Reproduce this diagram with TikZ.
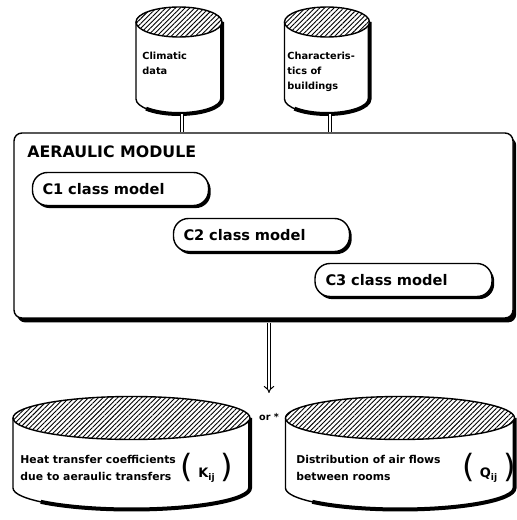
\documentclass[tikz,border=0pt]{standalone}
\usepackage{fontspec}
\setmainfont{DejaVu Sans}
\usetikzlibrary{patterns.meta}
\usetikzlibrary{shadows}
\usetikzlibrary{arrows.meta}

% drum: name, cx, y of top, y of bottom, x radius, y radius
\newcommand{\drum}[6]{%
\fill[white] (#2-#5,#3) -- (#2-#5,#4) arc[start angle=180, end angle=360, x radius=#5, y radius=#6] -- (#2+#5,#3) -- cycle;
\draw[line width=0.7pt] (#2-#5,#3) -- (#2-#5,#4) arc[start angle=180, end angle=360, x radius=#5, y radius=#6] -- (#2+#5,#3);
\draw[line width=2pt] (#2+#5,#3) -- (#2+#5,#4) arc[start angle=0, end angle=-140, x radius=#5, y radius=#6];
\draw[line width=0.7pt, fill=white] (#2,#3) ellipse [x radius=#5, y radius=#6];
\fill[pattern={Lines[angle=45, distance=1.7pt, line width=0.45pt]}] (#2,#3) ellipse [x radius=#5, y radius=#6];
\coordinate (#1-bot) at (#2,#4-#6);
}

\begin{document}
\begin{tikzpicture}[x=0.5pt, y=0.5pt, font=\bfseries,
  module/.style={draw, line width=0.7pt, fill=white, rounded corners=4pt,
    drop shadow={shadow xshift=1.6pt, shadow yshift=-2.2pt, opacity=1, fill=black}},
  classbox/.style={draw, line width=0.7pt, fill=white, rounded corners=7.5pt,
    minimum height=16.5pt, text width=78pt, inner xsep=5pt, align=left,
    font=\bfseries\fontsize{7.3}{8}\selectfont,
    drop shadow={shadow xshift=1.1pt, shadow yshift=-1.3pt, opacity=1, fill=black}},
  drumtext/.style={inner sep=0pt, align=left, font=\bfseries\fontsize{4.9}{7.4}\selectfont},
  basetext/.style={inner sep=0pt, align=left, font=\bfseries\fontsize{5.4}{8.5}\selectfont},
  bracket/.style={inner sep=0pt, font=\mdseries\fontsize{16}{16}\selectfont},
  wire/.style={double, double distance=1.3pt, line width=0.5pt}]
\useasboundingbox (0,0) rectangle (516,520);

% data sources
\drum{climate}{179}{498}{421}{43}{15}
\drum{building}{327}{498}{421}{42.5}{15}
\node[drumtext, anchor=north west] (climtext) at (142,468) {Climatic\\data};
\node[drumtext, anchor=north west] (buildtext) at (287,468) {Characteris-\\tics of\\buildings};

% the module
\node[module, minimum width=249.5pt, minimum height=92.5pt] (module) at (263.5,294.5) {};
\node[anchor=west, inner sep=0pt, font=\bfseries\fontsize{7.9}{9}\selectfont] (modtitle) at (27,368) {AERAULIC MODULE};
\node[classbox, minimum width=87.5pt] (c1) at (120.5,331) {C1 class model};
\node[classbox, minimum width=86.5pt] (c2) at (261.5,285) {C2 class model};
\node[classbox, minimum width=88.5pt] (c3) at (403.5,240) {C3 class model};

\draw[wire] ([xshift=1.5pt]climate-bot) -- ([xshift=1.5pt]climate-bot |- module.north);
\draw[wire] ([xshift=1.5pt]building-bot) -- ([xshift=1.5pt]building-bot |- module.north);

% results
\coordinate (split) at (269,127);
\draw[wire, -{Implies}] ([xshift=2.75pt,yshift=-2.2pt]module.south) -- (split);
\node[inner sep=0pt, font=\bfseries\fontsize{4.8}{5}\selectfont] (ortext) at (269,103) {or *};

\drum{coeff}{131.5}{102}{32}{118.5}{21.5}
\drum{flows}{400}{102}{32}{114.5}{21.5}
\node[basetext, anchor=west] (coefftext) at (20,52) {Heat transfer coefficients\\due to aeraulic transfers};
\node[basetext, anchor=west] (flowtext) at (296,52) {Distribution of air flows\\between rooms};
\node[bracket] (kij) at (207,52)
  {(\,{\bfseries\fontsize{6.5}{6.5}\selectfont K\textsubscript{ij}}\,)};
\node[bracket] (qij) at (489,52)
  {(\,{\bfseries\fontsize{6.5}{6.5}\selectfont Q\textsubscript{ij}}\,)};
\end{tikzpicture}
\end{document}
